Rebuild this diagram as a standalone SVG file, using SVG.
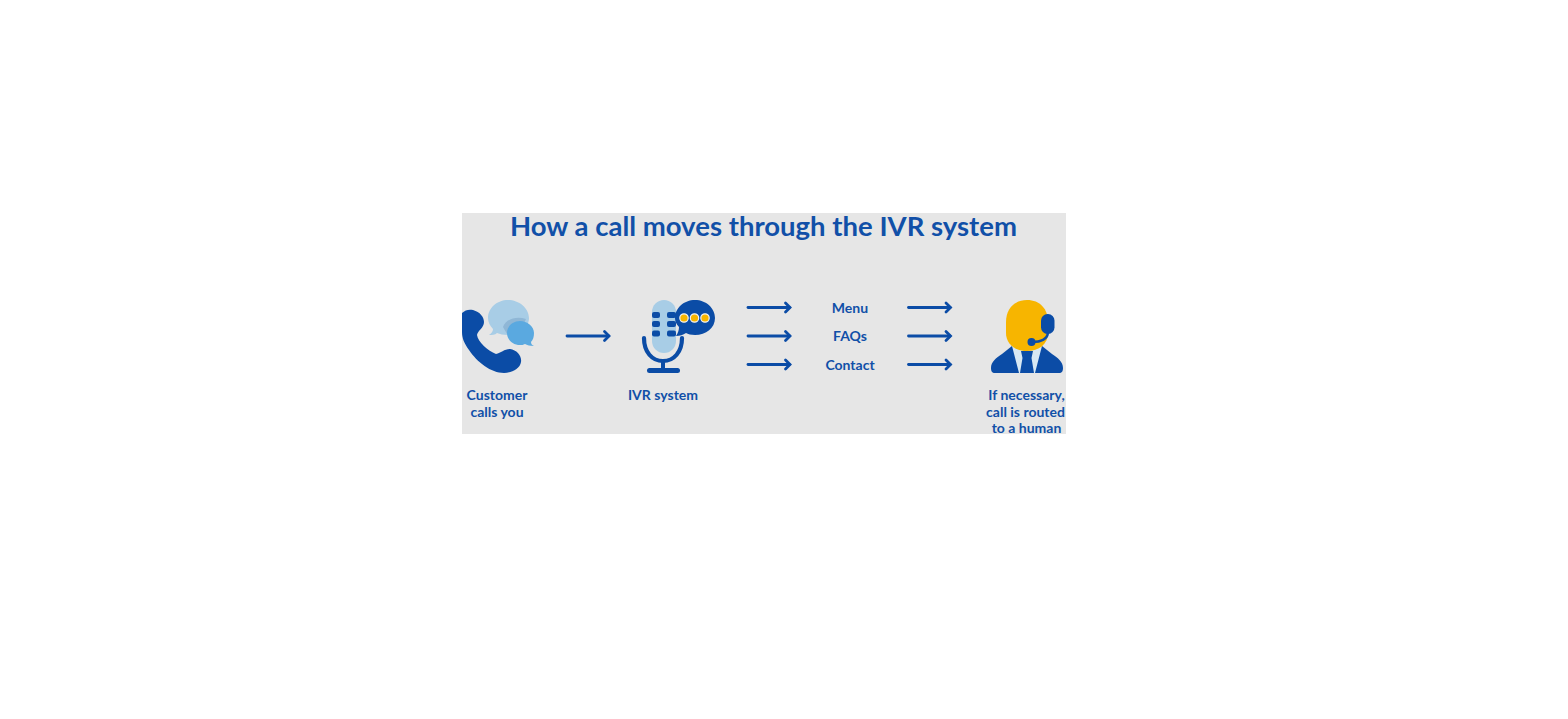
<svg xmlns="http://www.w3.org/2000/svg" width="1568" height="719" viewBox="0 0 1568 719">
<style>
text{font-family:Lato,"Open Sans","Liberation Sans",sans-serif;font-weight:700;fill:#1150a8;text-anchor:middle}
.l{font-size:14px}
.c{fill:none;stroke:#0b4ca6;stroke-width:2.800;stroke-linecap:round;marker-end:url(#a)}
.b{fill:#0b4ca6}
</style>
<defs><marker id="a" markerUnits="userSpaceOnUse" markerWidth="12" markerHeight="14" refX="8" refY="7" orient="auto"><path d="M4 2.500L8.500 7L4 11.500" fill="none" stroke="#0b4ca6" stroke-width="2.800" stroke-linecap="round"/></marker></defs>
<rect width="1568" height="719" fill="#fff"/>
<rect id="panel" x="462" y="213" width="604" height="221" fill="#e6e6e6"/>
<text id="title" x="763.500" y="236" font-size="27.500">How a call moves through the IVR system</text>
<g id="customer">
<path fill="#a8cde6" d="M508 300C519 300 529 308 529 318C529 328 519 335 508 335C503 335 500 334 497 333C495 335 492 335 489 335C492 333 493 331 493 329C490 326 488 322 488 318C488 308 497 300 508 300Z"/>
<path fill="#8fb7d6" d="M503 327C506 319 516 316 526 319L522 328L507 334Z"/>
<path fill="#5aa9e0" d="M520 321C527 321 534 326 534 333C534 337 533 340 531 342C531 344 532 345 534 346C530 346 527 345 525 344C523 345 522 345 520 345C513 345 507 340 507 333C507 326 513 321 520 321Z"/>
<path class="b" d="M462 313C465 310 469 309 473 310C480 312 484 317 484 322C484 328 478 330 477 335C478 342 488 351 496 354C501 353 504 349 510 349C517 350 522 356 521 362C520 369 511 373 504 373C491 373 477 362 469 350C464 343 462 338 462 332Z"/>
<text class="l" x="497" y="400">Customer</text>
<text class="l" x="497" y="416.500">calls you</text>
</g>
<g id="ivr">
<rect x="652" y="300" width="24" height="53" rx="12" fill="#a8cde6"/>
<path d="M644 338C644 352 652 361 663 361C674 361 682 352 682 338" fill="none" stroke="#0b4ca6" stroke-width="4.200" stroke-linecap="round"/>
<path d="M663 360V370" stroke="#0b4ca6" stroke-width="4"/>
<rect x="647" y="368" width="33" height="5" rx="2.500" class="b"/>
<g class="b"><rect x="652" y="312" width="8" height="6" rx="2"/><rect x="652" y="321" width="8" height="6" rx="2"/><rect x="652" y="330.500" width="8" height="6" rx="2"/><rect x="667" y="312" width="9" height="6" rx="2"/><rect x="667" y="321" width="9" height="6" rx="2"/><rect x="667" y="330.500" width="9" height="6" rx="2"/></g>
<path class="b" d="M695 300C706 300 715 308 715 318C715 328 706 335 695 335C691 335 688 334 686 333C683 335 680 336 676 336C678 333 679 330 679 327C676 324 675 321 675 318C675 308 684 300 695 300Z"/>
<g fill="#f7b500" stroke="#f2f2f2" stroke-width="1.200"><circle cx="684" cy="318" r="4.200"/><circle cx="694.500" cy="318" r="4.200"/><circle cx="705" cy="318" r="4.200"/></g>
<text class="l" x="663" y="400">IVR system</text>
</g>
<g id="options">
<text class="l" x="850" y="312.500">Menu</text>
<text class="l" x="850" y="341">FAQs</text>
<text class="l" x="850" y="369.500">Contact</text>
</g>
<g id="human">
<path d="M1012 346H1042L1044 373H1010Z" fill="#d8e8f3"/>
<path class="b" d="M991 368C991 362 996 358 1002 354L1012 346L1019 373H995C992 373 991 371 991 368Z"/>
<path class="b" d="M1063 368C1063 362 1058 358 1052 354L1042 346L1035 373H1059C1062 373 1063 371 1063 368Z"/>
<path class="b" d="M1021 351H1033L1031.500 358L1034 373H1020L1022.500 358Z"/>
<path fill="#f7b500" d="M1027 300C1040 300 1048 309 1048 322V333C1048 344 1039 351 1027 351C1015 351 1006 344 1006 333V322C1006 309 1014 300 1027 300Z"/>
<path d="M1048 333C1047 339 1041 342 1032 342" fill="none" stroke="#0b4ca6" stroke-width="2.400"/>
<circle cx="1031.500" cy="342" r="4" class="b"/>
<rect x="1041" y="314" width="13.500" height="20" rx="6.500" class="b"/>
<text class="l" x="1026.500" y="400">If necessary,</text>
<text class="l" x="1025.500" y="416.500">call is routed</text>
<text class="l" x="1026.500" y="433">to a human</text>
</g>
<g id="connectors">
<path class="c" d="M567 336H608.500"/>
<path class="c" d="M748 307.500H789.500"/>
<path class="c" d="M748 336H789.500"/>
<path class="c" d="M748 364.500H789.500"/>
<path class="c" d="M908.500 307.500H950"/>
<path class="c" d="M908.500 336H950"/>
<path class="c" d="M908.500 364.500H950"/>
</g>
</svg>
